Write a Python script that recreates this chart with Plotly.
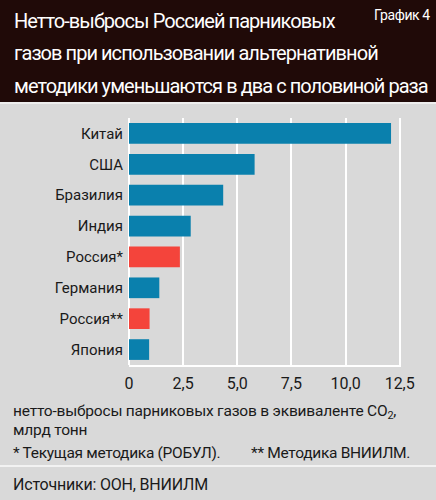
import plotly.graph_objects as go

# data
countries = ["Китай", "США", "Бразилия", "Индия", "Россия*", "Германия", "Россия**", "Япония"]
emissions = [12.1, 5.8, 4.35, 2.85, 2.35, 1.4, 0.95, 0.93]
is_russia = [False, False, False, False, True, False, True, False]
tick_vals = [0, 2.5, 5.0, 7.5, 10.0, 12.5]
tick_text = ["0", "2,5", "5,0", "7,5", "10,0", "12,5"]

title_lines = ["Нетто-выбросы Россией парниковых",
               "газов при использовании альтернативной",
               "методики уменьшаются в два с половиной раза"]

W, H = 436, 500
px = lambda v: v / W
py = lambda v: 1 - v / H

fnt = "Roboto, sans-serif"
blue = "#0a80ad"
red = "#f4443b"
txt = "#1a1a1a"
clrs = [red if r else blue for r in is_russia]

# the reference uses a condensed face; squeeze Roboto a bit
tight = lambda t, ls: '<span style="letter-spacing:%spx">%s</span>' % (ls, t)

fig = go.Figure()
fig.add_trace(go.Bar(
    x=emissions, y=countries, orientation="h",
    marker=dict(color=clrs, line=dict(width=0)),
    hoverinfo="x+y",
))

fig.update_xaxes(range=[0, 12.56], tickvals=tick_vals, ticktext=tick_text,
                 showgrid=True, gridcolor="white", gridwidth=1.6,
                 zeroline=True, zerolinecolor="white", zerolinewidth=1.6,
                 showline=True, linecolor="white", linewidth=1.6,
                 ticks="", ticklabelstandoff=3, tickfont=dict(size=16, color=txt),
                 automargin=False, domain=[px(129), px(401)])
fig.update_yaxes(categoryorder="array", categoryarray=countries[::-1],
                 showgrid=False, ticks="", ticklabelstandoff=5, automargin=False,
                 tickfont=dict(size=15, color=txt),
                 domain=[py(365), py(118)])

shapes = [
    dict(type="rect", xref="paper", yref="paper", x0=0, x1=1, y0=py(102), y1=1,
         fillcolor="#200a08", line=dict(width=0), layer="below"),
    dict(type="rect", xref="paper", yref="paper", x0=0, x1=1, y0=py(104), y1=py(102),
         fillcolor="#eeeeee", line=dict(width=0), layer="below"),
    dict(type="line", xref="paper", yref="paper", x0=0, x1=1, y0=py(466), y1=py(466),
         line=dict(color="#f2f2f2", width=2), layer="below"),
]

def note(t, x, y, size, anchor="left", color=txt):
    return dict(text=t, x=px(x), y=py(y), xref="paper", yref="paper",
                xanchor=anchor, yanchor="middle", showarrow=False,
                font=dict(size=size, color=color, family=fnt))

annos = [note(tight(t, -0.95), 12, 21 + i * 32.5, 20, color="white") for i, t in enumerate(title_lines)]
annos.append(note(tight("График 4", -0.4), 432, 15, 14, anchor="right", color="white"))
annos.append(note(tight("нетто-выбросы парниковых газов в эквиваленте CO<sub>2</sub>,", -0.2), 11, 412, 15.5))
annos.append(note(tight("млрд тонн", -0.2), 11, 430, 15.5))
annos.append(note(tight("* Текущая методика (РОБУЛ).", -0.3), 11, 453, 15.5))
annos.append(note(tight("** Методика ВНИИЛМ.", -0.3), 412, 453, 15.5, anchor="right"))
annos.append(note(tight("Источники: ООН, ВНИИЛМ", -0.2), 11, 484, 16))

fig.update_layout(
    width=W, height=H, margin=dict(l=0, r=0, t=0, b=0),
    paper_bgcolor="#d9d9d9", plot_bgcolor="#d9d9d9",
    bargap=0.33, showlegend=False,
    font=dict(family=fnt, color=txt),
    shapes=shapes, annotations=annos,
)

fig.write_html("out.html", config=dict(displayModeBar=False),
               post_script="document.body.style.margin='0';")
